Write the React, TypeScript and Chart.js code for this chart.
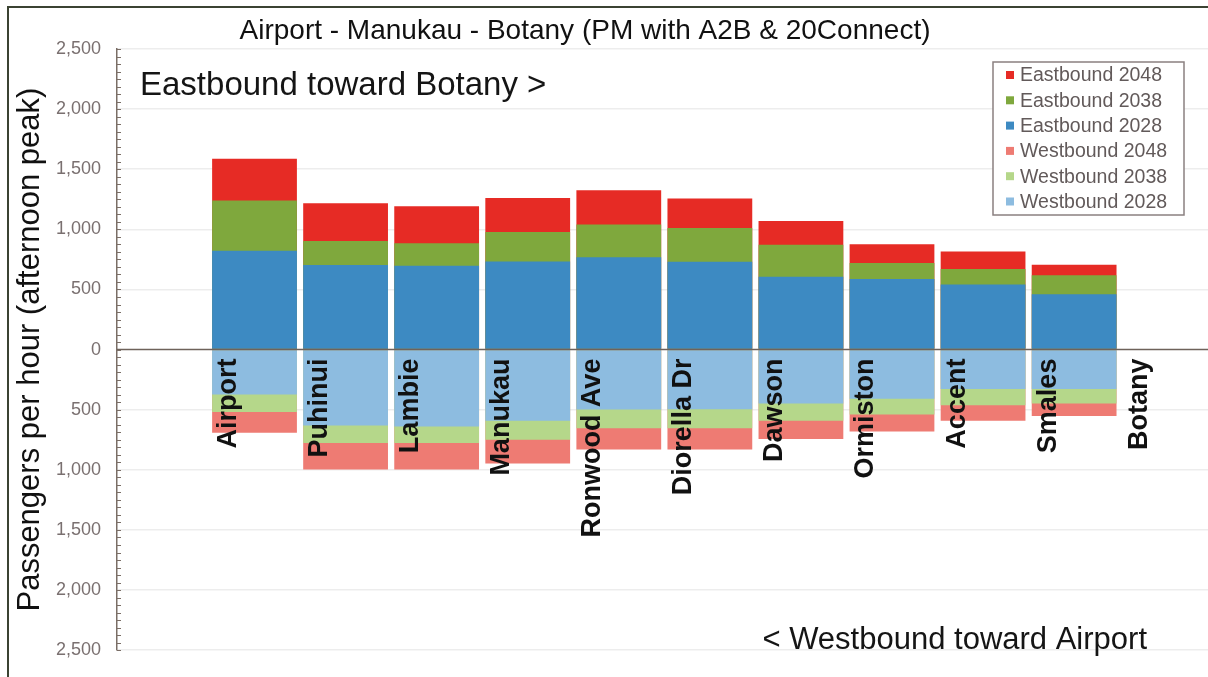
import React, { useEffect, useRef } from 'react';
import { Chart, registerables } from 'chart.js';

Chart.register(...registerables);

const FONT = "'Liberation Sans', Arial, Helvetica, sans-serif";

const chartTitle = 'Airport - Manukau - Botany (PM with A2B & 20Connect)';
const yAxisTitle = 'Passengers per hour (afternoon peak)';
const eastNote = 'Eastbound toward Botany >';
const westNote = '< Westbound toward Airport';

const categories = ['Airport', 'Puhinui', 'Lambie', 'Manukau', 'Ronwood Ave', 'Diorella Dr', 'Dawson', 'Ormiston', 'Accent', 'Smales', 'Botany'];

const eastbound2048 = [1587, 1217, 1193, 1261, 1326, 1256, 1070, 877, 815, 705, 0];
const eastbound2038 = [1239, 904, 885, 978, 1040, 1011, 872, 721, 670, 618, 0];
const eastbound2028 = [823, 703, 697, 733, 768, 730, 605, 588, 542, 460, 0];
const westbound2048 = [-692, -997, -997, -948, -831, -831, -743, -681, -591, -553, 0];
const westbound2038 = [-518, -776, -776, -749, -654, -654, -591, -539, -463, -449, 0];
const westbound2028 = [-373, -632, -640, -591, -498, -496, -449, -409, -327, -327, 0];

const seriesLabels = ['Eastbound 2048', 'Eastbound 2038', 'Eastbound 2028', 'Westbound 2048', 'Westbound 2038', 'Westbound 2028'];
const seriesColors = ['#E62B25', '#7FA83D', '#3D8AC2', '#EE7B73', '#B5D78A', '#8DBCE0'];

const yTicks = [-2500, -2000, -1500, -1000, -500, 0, 500, 1000, 1500, 2000, 2500];

export default function App() {
  const ref = useRef<HTMLCanvasElement>(null);

  useEffect(() => {
    const canvas = ref.current;
    if (!canvas) return;

    const series = [eastbound2048, eastbound2038, eastbound2028, westbound2048, westbound2038, westbound2028];
    const drawOrder = [2, 1, 0, 2, 1, 0];

    const datasets = series.map((vals, k) => ({
      label: seriesLabels[k],
      data: vals.map((v, i) => ({ x: i, y: v })),
      backgroundColor: seriesColors[k],
      borderWidth: 0,
      grouped: false,
      order: drawOrder[k],
      barPercentage: 0.95,
      categoryPercentage: 1,
    }));

    const overlay = {
      id: 'overlay',
      beforeDraw(chart: any) {
        const c = chart.ctx;
        c.save();
        c.fillStyle = '#ffffff';
        c.fillRect(0, 0, chart.width, chart.height);
        c.restore();
      },
      afterDatasetsDraw(chart: any) {
        const c = chart.ctx;
        const xs = chart.scales.x;
        const ys = chart.scales.y;
        const area = chart.chartArea;
        const zeroY = ys.getPixelForValue(0);
        c.save();
        // zero line
        c.strokeStyle = '#6e625a';
        c.lineWidth = 1.5;
        c.beginPath();
        c.moveTo(area.left, zeroY);
        c.lineTo(area.right, zeroY);
        c.stroke();
        // minor ticks on y axis
        c.strokeStyle = '#7a6e66';
        c.lineWidth = 1;
        for (let v = -2500; v <= 2500; v += 62.5) {
          const py = Math.round(ys.getPixelForValue(v)) + 0.5;
          c.beginPath();
          c.moveTo(area.left, py);
          c.lineTo(area.left + 4, py);
          c.stroke();
        }
        // category labels
        c.fillStyle = '#111111';
        c.font = `bold 27px ${FONT}`;
        c.textAlign = 'right';
        c.textBaseline = 'middle';
        categories.forEach((name, i) => {
          const px = xs.getPixelForValue(i) - 26;
          c.save();
          c.translate(px, zeroY + 9);
          c.rotate(-Math.PI / 2);
          c.fillText(name, 0, 0);
          c.restore();
        });
        // direction notes
        c.fillStyle = '#151515';
        c.textBaseline = 'middle';
        c.font = `33px ${FONT}`;
        c.textAlign = 'left';
        c.fillText(eastNote, 140, 86);
        c.font = `31px ${FONT}`;
        c.textAlign = 'right';
        c.fillText(westNote, 1147, 640);
        // legend box
        const lx = 993, ly = 62, lw = 191, lh = 153;
        c.fillStyle = '#ffffff';
        c.fillRect(lx, ly, lw, lh);
        c.strokeStyle = '#8a8080';
        c.lineWidth = 1.5;
        c.strokeRect(lx, ly, lw, lh);
        c.font = `19.5px ${FONT}`;
        c.textAlign = 'left';
        c.textBaseline = 'middle';
        chart.data.datasets.forEach((ds: any, k: number) => {
          const yy = 75 + k * 25.3;
          c.fillStyle = ds.backgroundColor;
          c.fillRect(1006, yy - 4, 8, 8);
          c.fillStyle = '#625a5a';
          c.fillText(ds.label, 1020, yy + 1);
        });
        c.restore();
      },
      afterDraw(chart: any) {
        const c = chart.ctx;
        c.save();
        c.strokeStyle = '#3b4332';
        c.lineWidth = 2;
        c.beginPath();
        c.moveTo(8, chart.height);
        c.lineTo(8, 7);
        c.lineTo(chart.width, 7);
        c.stroke();
        c.restore();
      },
    };

    const chart = new Chart(canvas, {
      type: 'bar',
      data: { datasets: datasets as any },
      options: {
        animation: false,
        responsive: false,
        maintainAspectRatio: false,
        layout: { padding: { left: -38, right: 0, top: 0, bottom: 16 } },
        plugins: {
          legend: { display: false },
          tooltip: { enabled: false },
          title: {
            display: true,
            text: chartTitle,
            color: '#111111',
            font: { family: FONT, size: 28, weight: 'normal' },
            padding: { top: 14, bottom: 1.4 },
          },
        },
        scales: {
          x: {
            type: 'linear',
            display: false,
            offset: false,
            bounds: 'data',
            min: -1.51,
            max: 10.47,
            ticks: { stepSize: 1, includeBounds: false },
            grid: { display: false, offset: false },
          },
          y: {
            type: 'linear',
            min: -2500,
            max: 2500,
            afterBuildTicks: (scale: any) => {
              scale.ticks = yTicks.map((v) => ({ value: v }));
            },
            afterFit: (scale: any) => {
              scale.width = 155;
            },
            ticks: {
              color: '#7a7070',
              padding: 16,
              font: { family: FONT, size: 18 },
              callback: (v: any) => Math.abs(Number(v)).toLocaleString('en-US'),
            },
            grid: {
              drawTicks: false,
              color: (ctx: any) => (ctx.tick && ctx.tick.value === 0 ? 'rgba(0,0,0,0)' : '#ededed'),
              lineWidth: 1.5,
            },
            border: { display: true, color: '#7a6e66', width: 1.5 },
            title: {
              display: true,
              text: yAxisTitle,
              color: '#111111',
              font: { family: FONT, size: 31 },
              padding: { top: 50, bottom: 0 },
            },
          },
        },
      },
      plugins: [overlay],
    });

    return () => chart.destroy();
  }, []);

  return (
    <div style={{ position: 'fixed', left: 0, top: 0, width: 1208, height: 677, overflow: 'hidden', background: '#fff' }}>
      <canvas ref={ref} width={1208} height={677} style={{ display: 'block', width: 1208, height: 677 }} />
    </div>
  );
}
